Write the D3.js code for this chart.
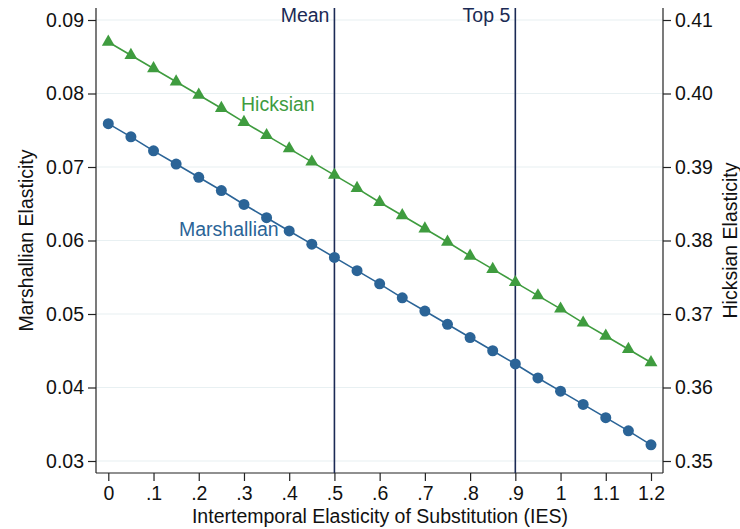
<!DOCTYPE html>
<html>
<head>
<meta charset="utf-8">
<script src="https://cdn.jsdelivr.net/npm/d3@7"></script>
<style>
  body { margin: 0; background: #fff; }
  svg { font-family: "Liberation Sans", Arial, Helvetica, sans-serif; }
</style>
</head>
<body>
<div id="chart"></div>
<script>
// IES grid
const ies = [0, .05, .1, .15, .2, .25, .3, .35, .4, .45, .5, .55, .6, .65, .7, .75, .8, .85, .9, .95, 1, 1.05, 1.1, 1.15, 1.2];

// Marshallian elasticity (left axis)
const marshallian = [0.0759, 0.0741, 0.0722, 0.0704, 0.0686, 0.0668, 0.0649, 0.0631, 0.0613, 0.0595, 0.0577, 0.0559, 0.0541, 0.0522, 0.0504, 0.0486, 0.0468, 0.0450, 0.0432, 0.0413, 0.0395, 0.0377, 0.0359, 0.0341, 0.0322];

// Hicksian elasticity (right axis)
const hicksian = [0.4070, 0.4052, 0.4034, 0.4016, 0.3998, 0.3980, 0.3961, 0.3943, 0.3925, 0.3907, 0.3889, 0.3871, 0.3852, 0.3834, 0.3816, 0.3798, 0.3779, 0.3761, 0.3743, 0.3725, 0.3707, 0.3688, 0.3670, 0.3652, 0.3634];

const xTicks = [0, .1, .2, .3, .4, .5, .6, .7, .8, .9, 1, 1.1, 1.2];
const leftTicks = [0.03, 0.04, 0.05, 0.06, 0.07, 0.08, 0.09];
const rightTicks = [0.35, 0.36, 0.37, 0.38, 0.39, 0.40, 0.41];

// reference lines
const refLines = [{ x: 0.5, label: "Mean" }, { x: 0.9, label: "Top 5" }];

const width = 740, height = 529;
const plot = { left: 96, right: 663, top: 8, bottom: 473 };
const fs = 19.5;

const blue = "#2b6497", green = "#3f9c3f", navy = "#1b2a55";

const svg = d3.select("#chart").append("svg")
  .attr("width", width)
  .attr("height", height);

// Scales
const x = d3.scaleLinear().domain([0, 1.2]).range([108.3, 651]);
const yL = d3.scaleLinear().domain([0.03, 0.09]).range([461, 20]);
const yR = d3.scaleLinear().domain([0.35, 0.41]).range([461, 20]);

// Gridlines
svg.append("g")
  .selectAll("line")
  .data(leftTicks)
  .join("line")
  .attr("x1", plot.left).attr("x2", plot.right)
  .attr("y1", d => yL(d)).attr("y2", d => yL(d))
  .attr("stroke", "#e8f0f2")
  .attr("stroke-width", 1.2);

// Left axis
svg.append("g")
  .attr("transform", `translate(${plot.left},0)`)
  .call(d3.axisLeft(yL).tickValues(leftTicks).tickFormat(d3.format(".2f")).tickSize(8).tickSizeOuter(0))
  .call(g => g.select(".domain").attr("d", `M0,${plot.top}V${plot.bottom}`))
  .call(g => g.selectAll("text").attr("font-size", fs).attr("fill", "#111").attr("x", -12));

// Right axis
svg.append("g")
  .attr("transform", `translate(${plot.right},0)`)
  .call(d3.axisRight(yR).tickValues(rightTicks).tickFormat(d3.format(".2f")).tickSize(8).tickSizeOuter(0))
  .call(g => g.select(".domain").attr("d", `M0,${plot.top}V${plot.bottom}`))
  .call(g => g.selectAll("text").attr("font-size", fs).attr("fill", "#111").attr("x", 12));

// Bottom axis
const fmtX = d => d === 0 ? "0" : d3.format(".1f")(d).replace(/^0\./, ".").replace(/\.0$/, "");
svg.append("g")
  .attr("transform", `translate(0,${plot.bottom})`)
  .call(d3.axisBottom(x).tickValues(xTicks).tickFormat(fmtX).tickSize(8).tickSizeOuter(0))
  .call(g => g.select(".domain").attr("d", `M${plot.left},0H${plot.right}`))
  .call(g => g.selectAll("text").attr("font-size", fs).attr("fill", "#111").attr("y", 13));

svg.selectAll(".domain, .tick line").attr("stroke", "#222").attr("stroke-width", 1.2);

// Vertical reference lines
refLines.forEach(r => {
  svg.append("line")
    .attr("x1", x(r.x)).attr("x2", x(r.x))
    .attr("y1", plot.top).attr("y2", plot.bottom)
    .attr("stroke", navy).attr("stroke-width", 1.6);
  svg.append("text")
    .attr("x", x(r.x) - 5).attr("y", 22)
    .attr("text-anchor", "end")
    .attr("font-size", fs)
    .attr("fill", navy)
    .text(r.label);
});

// Lines
const lineL = d3.line().x((d, i) => x(ies[i])).y(d => yL(d));
const lineR = d3.line().x((d, i) => x(ies[i])).y(d => yR(d));

svg.append("path").datum(hicksian)
  .attr("d", lineR).attr("fill", "none")
  .attr("stroke", green).attr("stroke-width", 1.6);

svg.append("path").datum(marshallian)
  .attr("d", lineL).attr("fill", "none")
  .attr("stroke", blue).attr("stroke-width", 1.6);

// Markers
const tri = d3.symbol().type(d3.symbolTriangle).size(72);
svg.append("g").selectAll("path")
  .data(hicksian)
  .join("path")
  .attr("d", tri)
  .attr("transform", (d, i) => `translate(${x(ies[i])},${yR(d)})`)
  .attr("fill", green);

svg.append("g").selectAll("circle")
  .data(marshallian)
  .join("circle")
  .attr("cx", (d, i) => x(ies[i]))
  .attr("cy", d => yL(d))
  .attr("r", 5.5)
  .attr("fill", blue);

// Series labels
svg.append("text")
  .attr("x", 241).attr("y", 111)
  .attr("font-size", fs).attr("fill", green)
  .text("Hicksian");

svg.append("text")
  .attr("x", 179).attr("y", 236)
  .attr("font-size", fs).attr("fill", blue)
  .text("Marshallian");

// Axis titles
svg.append("text")
  .attr("x", 380)
  .attr("y", 523)
  .attr("text-anchor", "middle")
  .attr("font-size", fs).attr("fill", "#111")
  .text("Intertemporal Elasticity of Substitution (IES)");

svg.append("text")
  .attr("transform", `translate(33,${(yL(0.03) + yL(0.09)) / 2}) rotate(-90)`)
  .attr("text-anchor", "middle")
  .attr("font-size", fs).attr("fill", "#111")
  .text("Marshallian Elasticity");

svg.append("text")
  .attr("transform", `translate(737,${(yR(0.35) + yR(0.41)) / 2}) rotate(-90)`)
  .attr("text-anchor", "middle")
  .attr("font-size", fs).attr("fill", "#111")
  .text("Hicksian Elasticity");
</script>
</body>
</html>
